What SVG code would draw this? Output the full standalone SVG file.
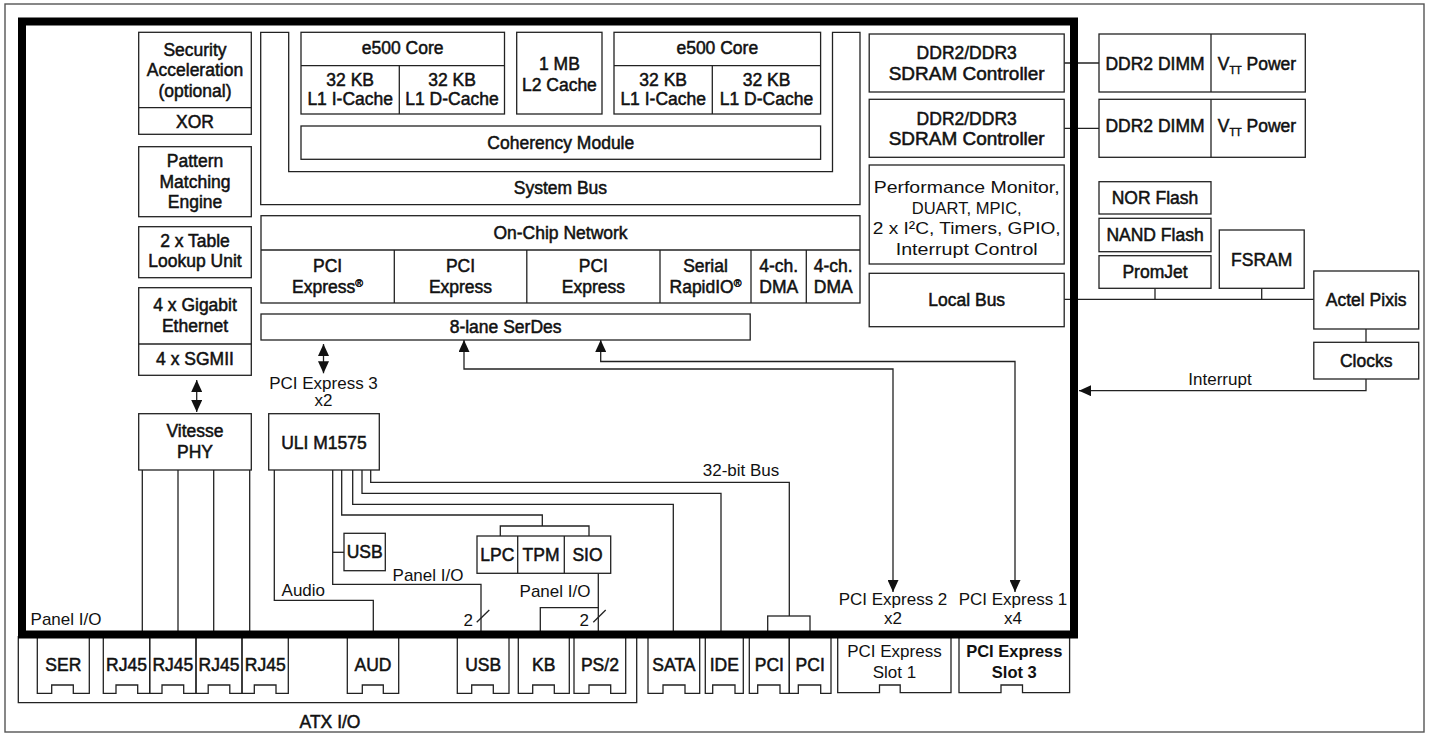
<svg xmlns="http://www.w3.org/2000/svg" width="1429" height="736" viewBox="0 0 1429 736">
<style>
.bx{fill:#fff;stroke:#222;stroke-width:1.3}
.ln{fill:none;stroke:#222;stroke-width:1.3}
.m{font-family:"Liberation Sans",Arial,sans-serif;font-size:17.5px;font-weight:normal;fill:#111;stroke:#111;stroke-width:0.5;text-anchor:middle}
.r{font-family:"Liberation Sans",Arial,sans-serif;font-size:17px;font-weight:normal;fill:#111;text-anchor:middle}
.bd{font-family:"Liberation Sans",Arial,sans-serif;font-size:16.5px;font-weight:bold;fill:#111;text-anchor:middle}
.thick{fill:none;stroke:#000;stroke-width:8}
</style>
<defs>
<marker id="ah" markerUnits="userSpaceOnUse" markerWidth="12" markerHeight="11" refX="12" refY="5.5" orient="auto-start-reverse" viewBox="0 0 12 11">
<path d="M0,0 L12,5.5 L0,11 z" fill="#111"/>
</marker>
</defs>
<rect x="0" y="0" width="1429" height="736" fill="#fff"/>
<rect x="5" y="4" width="1419" height="728" fill="none" stroke="#555" stroke-width="1.4"/>

<g id="connectors" class="ln">
<line x1="142.3" y1="470" x2="142.3" y2="632"/>
<line x1="178" y1="470" x2="178" y2="632"/>
<line x1="213.7" y1="470" x2="213.7" y2="632"/>
<line x1="249.7" y1="470" x2="249.7" y2="632"/>
<path d="M274.3,470 V600.3 H373.3 V632"/>
<path d="M332.7,470 V584.3 H481 V632"/>
<path d="M332.7,552.3 H344"/>
<path d="M341.7,470 V515 H542.3 V526"/>
<path d="M500.3,536 V526 H589 V536"/>
<path d="M352.7,470 V504.3 H673.3 V632"/>
<path d="M362,470 V493.3 H721 V632"/>
<path d="M370.7,470 V482.3 H789.3 V616"/>
<path d="M598.3,573.3 V632"/>
<path d="M540.3,632 V607.7 H598.3"/>
<line x1="476.7" y1="622.3" x2="489.3" y2="610"/>
<line x1="593.3" y1="622.3" x2="605.7" y2="610"/>
<path d="M464,340 V369 H893 V592" marker-start="url(#ah)" marker-end="url(#ah)"/>
<path d="M600.7,340 V361.5 H1015 V592" marker-start="url(#ah)" marker-end="url(#ah)"/>
<line x1="323.5" y1="344" x2="323.5" y2="373.3" marker-start="url(#ah)" marker-end="url(#ah)"/>
<line x1="196.7" y1="380" x2="196.7" y2="412" marker-start="url(#ah)" marker-end="url(#ah)"/>
<line x1="1064.2" y1="63" x2="1099" y2="63"/>
<line x1="1064.2" y1="128.3" x2="1099" y2="128.3"/>
<line x1="1064.2" y1="299.3" x2="1313.8" y2="299.3"/>
<line x1="1155" y1="288.3" x2="1155" y2="299.3"/>
<line x1="1261.7" y1="288.3" x2="1261.7" y2="299.3"/>
<line x1="1366" y1="329" x2="1366" y2="342.3"/>
<path d="M1366,379 V390.7 H1079" marker-end="url(#ah)"/>
</g>

<g id="labels">
<text class="r" x="1220" y="384.5">Interrupt</text>
<text class="r" x="66" y="624.5">Panel I/O</text>
<text class="r" x="303.3" y="596">Audio</text>
<text class="r" x="428" y="580.5">Panel I/O</text>
<text class="r" x="555" y="597">Panel I/O</text>
<text class="r" x="741" y="475.5">32-bit Bus</text>
<text class="r" x="468.3" y="626">2</text>
<text class="r" x="584.3" y="626">2</text>
<text class="r" x="323.5" y="388.5">PCI Express 3</text>
<text class="r" x="323.5" y="405.5">x2</text>
<text class="r" x="893" y="605">PCI Express 2</text>
<text class="r" x="893" y="624">x2</text>
<text class="r" x="1013" y="605">PCI Express 1</text>
<text class="r" x="1013" y="624">x4</text>
</g>

<g id="security">
<rect class="bx" x="138.7" y="32.3" width="112.6" height="102"/>
<line class="ln" x1="138.7" y1="107.7" x2="251.3" y2="107.7"/>
<text class="m" x="195" y="55.5">Security</text>
<text class="m" x="195" y="76.2">Acceleration</text>
<text class="m" x="195" y="96.8">(optional)</text>
<text class="m" x="195" y="127.6">XOR</text>
</g>
<g id="pattern">
<rect class="bx" x="138.7" y="146.7" width="112.6" height="70"/>
<text class="m" x="195" y="166.5">Pattern</text>
<text class="m" x="195" y="187.5">Matching</text>
<text class="m" x="195" y="207.5">Engine</text>
</g>
<g id="table">
<rect class="bx" x="138.7" y="226.7" width="112.6" height="51"/>
<text class="m" x="195" y="246.8">2 x Table</text>
<text class="m" x="195" y="267.3">Lookup Unit</text>
</g>
<g id="gigabit">
<rect class="bx" x="138.7" y="287.7" width="112.6" height="87.6"/>
<line class="ln" x1="138.7" y1="344" x2="251.3" y2="344"/>
<text class="m" x="195" y="310.8">4 x Gigabit</text>
<text class="m" x="195" y="331.5">Ethernet</text>
<text class="m" x="195" y="365.3">4 x SGMII</text>
</g>
<g id="vitesse">
<rect class="bx" x="138.7" y="413.7" width="112.6" height="56.3"/>
<text class="m" x="195" y="436.8">Vitesse</text>
<text class="m" x="195" y="458.3">PHY</text>
</g>

<g id="systembus">
<path class="ln" d="M288.7,32.3 H260.7 V204.7 H860 V32.3 H832.5 V171.7 H288.7 Z"/>
<text class="m" x="560.4" y="194.3">System Bus</text>
</g>
<g id="core1">
<rect class="bx" x="301" y="32.3" width="203.5" height="81.7"/>
<line class="ln" x1="301" y1="65.7" x2="504.5" y2="65.7"/>
<line class="ln" x1="399.3" y1="65.7" x2="399.3" y2="114"/>
<text class="m" x="402.7" y="54.3">e500 Core</text>
<text class="m" x="350.2" y="85.8">32 KB</text>
<text class="m" x="350.2" y="105">L1 I-Cache</text>
<text class="m" x="452" y="85.8">32 KB</text>
<text class="m" x="452" y="105">L1 D-Cache</text>
</g>
<g id="l2">
<rect class="bx" x="516.7" y="32.3" width="85.3" height="81.7"/>
<text class="m" x="559.4" y="70.3">1 MB</text>
<text class="m" x="559.4" y="91.3">L2 Cache</text>
</g>
<g id="core2">
<rect class="bx" x="614" y="32.3" width="206.6" height="81.7"/>
<line class="ln" x1="614" y1="65.7" x2="820.6" y2="65.7"/>
<line class="ln" x1="712.3" y1="65.7" x2="712.3" y2="114"/>
<text class="m" x="717.3" y="54.3">e500 Core</text>
<text class="m" x="663.2" y="85.8">32 KB</text>
<text class="m" x="663.2" y="105">L1 I-Cache</text>
<text class="m" x="766.5" y="85.8">32 KB</text>
<text class="m" x="766.5" y="105">L1 D-Cache</text>
</g>
<g id="coherency">
<rect class="bx" x="301" y="126" width="519.6" height="33.3"/>
<text class="m" x="560.8" y="149">Coherency Module</text>
</g>

<g id="onchip">
<rect class="bx" x="261" y="215.7" width="599" height="87.3"/>
<line class="ln" x1="261" y1="250" x2="860" y2="250"/>
<line class="ln" x1="394.3" y1="250" x2="394.3" y2="303"/>
<line class="ln" x1="526.8" y1="250" x2="526.8" y2="303"/>
<line class="ln" x1="660" y1="250" x2="660" y2="303"/>
<line class="ln" x1="751" y1="250" x2="751" y2="303"/>
<line class="ln" x1="806.3" y1="250" x2="806.3" y2="303"/>
<text class="m" x="560.5" y="238.6">On-Chip Network</text>
<text class="m" x="327.6" y="271.8">PCI</text>
<text class="m" x="327.6" y="293.3">Express<tspan font-size="10.5" dy="-6.5">®</tspan></text>
<text class="m" x="460.5" y="271.8">PCI</text>
<text class="m" x="460.5" y="293.3">Express</text>
<text class="m" x="593.4" y="271.8">PCI</text>
<text class="m" x="593.4" y="293.3">Express</text>
<text class="m" x="705.5" y="271.8">Serial</text>
<text class="m" x="705.5" y="293.3">RapidIO<tspan font-size="10.5" dy="-6.5">®</tspan></text>
<text class="m" x="778.7" y="271.8">4-ch.</text>
<text class="m" x="778.7" y="293.3">DMA</text>
<text class="m" x="833.2" y="271.8">4-ch.</text>
<text class="m" x="833.2" y="293.3">DMA</text>
</g>
<g id="serdes">
<rect class="bx" x="261" y="314" width="489.2" height="26"/>
<text class="m" x="505.6" y="333">8-lane SerDes</text>
</g>

<g id="uli">
<rect class="bx" x="268.7" y="413.7" width="110.6" height="56.3"/>
<text class="m" x="324" y="449.3">ULI M1575</text>
</g>
<g id="usb-small">
<rect class="bx" x="344" y="533.3" width="41.3" height="37.4"/>
<text class="m" x="364.7" y="558">USB</text>
</g>
<g id="lpc-tpm-sio">
<rect class="bx" x="477" y="536" width="133.7" height="37.3"/>
<line class="ln" x1="517.7" y1="536" x2="517.7" y2="573.3"/>
<line class="ln" x1="564.3" y1="536" x2="564.3" y2="573.3"/>
<text class="m" x="497.3" y="561">LPC</text>
<text class="m" x="541" y="561">TPM</text>
<text class="m" x="587.5" y="561">SIO</text>
</g>
<g id="pci-bridge">
<rect class="bx" x="767.7" y="616" width="42.3" height="17"/>
</g>

<g id="ddr-ctrl1">
<rect class="bx" x="869.2" y="34" width="195" height="58"/>
<text class="m" x="966.7" y="59.3">DDR2/DDR3</text>
<text class="m" x="966.7" y="80" textLength="156" lengthAdjust="spacingAndGlyphs">SDRAM Controller</text>
</g>
<g id="ddr-ctrl2">
<rect class="bx" x="869.2" y="99.3" width="195" height="58"/>
<text class="m" x="966.7" y="124.6">DDR2/DDR3</text>
<text class="m" x="966.7" y="145.3" textLength="156" lengthAdjust="spacingAndGlyphs">SDRAM Controller</text>
</g>
<g id="perfmon">
<rect class="bx" x="869.2" y="165" width="195" height="99"/>
<text class="r" x="966.7" y="192.8" textLength="186" lengthAdjust="spacingAndGlyphs">Performance Monitor,</text>
<text class="r" x="966.7" y="213.5" textLength="110" lengthAdjust="spacingAndGlyphs">DUART, MPIC,</text>
<text class="r" x="966.7" y="234.3" textLength="188" lengthAdjust="spacingAndGlyphs">2 x I²C, Timers, GPIO,</text>
<text class="r" x="966.7" y="255" textLength="142" lengthAdjust="spacingAndGlyphs">Interrupt Control</text>
</g>
<g id="localbus">
<rect class="bx" x="869.2" y="273.3" width="195" height="53.4"/>
<text class="m" x="966.7" y="306">Local Bus</text>
</g>
<g id="dimm1">
<rect class="bx" x="1099" y="34" width="206.3" height="58"/>
<line class="ln" x1="1211" y1="34" x2="1211" y2="92"/>
<text class="m" x="1155" y="69.5">DDR2 DIMM</text>
<text class="m" x="1257" y="69.5">V<tspan font-size="10" dy="4">TT</tspan><tspan dy="-4"> Power</tspan></text>
</g>
<g id="dimm2">
<rect class="bx" x="1099" y="99.3" width="206.3" height="58"/>
<line class="ln" x1="1211" y1="99.3" x2="1211" y2="157.3"/>
<text class="m" x="1155" y="131.5">DDR2 DIMM</text>
<text class="m" x="1257" y="131.5">V<tspan font-size="10" dy="4">TT</tspan><tspan dy="-4"> Power</tspan></text>
</g>
<g id="norflash">
<rect class="bx" x="1099" y="181.7" width="112" height="32.3"/>
<text class="m" x="1155" y="204">NOR Flash</text>
</g>
<g id="nandflash">
<rect class="bx" x="1099" y="218.3" width="112" height="33.4"/>
<text class="m" x="1155" y="241">NAND Flash</text>
</g>
<g id="promjet">
<rect class="bx" x="1099" y="255.7" width="112" height="32.6"/>
<text class="m" x="1155" y="277.8">PromJet</text>
</g>
<g id="fsram">
<rect class="bx" x="1219.3" y="230" width="84.9" height="58.3"/>
<text class="m" x="1261.7" y="265.5">FSRAM</text>
</g>
<g id="actel">
<rect class="bx" x="1313.8" y="271" width="104.9" height="58"/>
<text class="m" x="1366.2" y="306">Actel Pixis</text>
</g>
<g id="clocks">
<rect class="bx" x="1313.8" y="342.3" width="104.9" height="36.7"/>
<text class="m" x="1366.2" y="366.5">Clocks</text>
</g>

<g id="atx">
<path class="ln" d="M18.3,636 V702.7 H636.7 V636"/>
<text class="m" x="330" y="727.8">ATX I/O</text>
</g>
<g id="ports" class="ln">
<path d="M37.3,636 V693.3 H51.7 V685 H73.3 V693.3 H89.3 V636"/>
<path d="M103.3,636 V693.3 H116 V685 H137.7 V693.3 H149.7 V636"/>
<path d="M149.7,636 V693.3 H162 V685 H183.7 V693.3 H196 V636"/>
<path d="M196,636 V693.3 H208.2 V685 H229.8 V693.3 H242 V636"/>
<path d="M242,636 V693.3 H254.3 V685 H276 V693.3 H288.3 V636"/>
<path d="M347.3,636 V693.3 H362.3 V685 H383.3 V693.3 H398.7 V636"/>
<path d="M457.3,636 V693.3 H471.7 V685 H493.3 V693.3 H509 V636"/>
<path d="M518.3,636 V693.3 H532.7 V685 H554.3 V693.3 H569.3 V636"/>
<path d="M574,636 V693.3 H589 V685 H610.7 V693.3 H625.7 V636"/>
<path d="M648,636 V693.3 H663 V685 H685 V693.3 H699.7 V636"/>
<path d="M705.3,636 V693.3 H712.7 V685 H735 V693.3 H743.3 V636"/>
<path d="M749.3,636 V693.3 H757.7 V685 H780 V693.3 H789.3 V636"/>
<path d="M789.3,636 V693.3 H798.3 V685 H820.7 V693.3 H831 V636"/>
<path d="M837.7,636 V692.7 H879.5 V685 H900.2 V692.7 H951 V636"/>
<path d="M959,636 V692.7 H1001 V685 H1022.5 V692.7 H1069.6 V636"/>
</g>
<g id="port-labels">
<text class="m" x="63.3" y="671">SER</text>
<text class="m" x="126.5" y="671">RJ45</text>
<text class="m" x="172.9" y="671">RJ45</text>
<text class="m" x="219" y="671">RJ45</text>
<text class="m" x="265.2" y="671">RJ45</text>
<text class="m" x="373" y="671">AUD</text>
<text class="m" x="483.2" y="671">USB</text>
<text class="m" x="543.8" y="671">KB</text>
<text class="m" x="599.9" y="671">PS/2</text>
<text class="m" x="673.9" y="671">SATA</text>
<text class="m" x="724.3" y="671">IDE</text>
<text class="m" x="769.3" y="671">PCI</text>
<text class="m" x="810.2" y="671">PCI</text>
<text class="r" x="894.4" y="657.3">PCI Express</text>
<text class="r" x="894.4" y="678">Slot 1</text>
<text class="bd" x="1014.3" y="657.3">PCI Express</text>
<text class="bd" x="1014.3" y="678">Slot 3</text>
</g>

<g id="chip">
<rect class="thick" x="22" y="21.5" width="1052" height="613"/>
</g>
</svg>
